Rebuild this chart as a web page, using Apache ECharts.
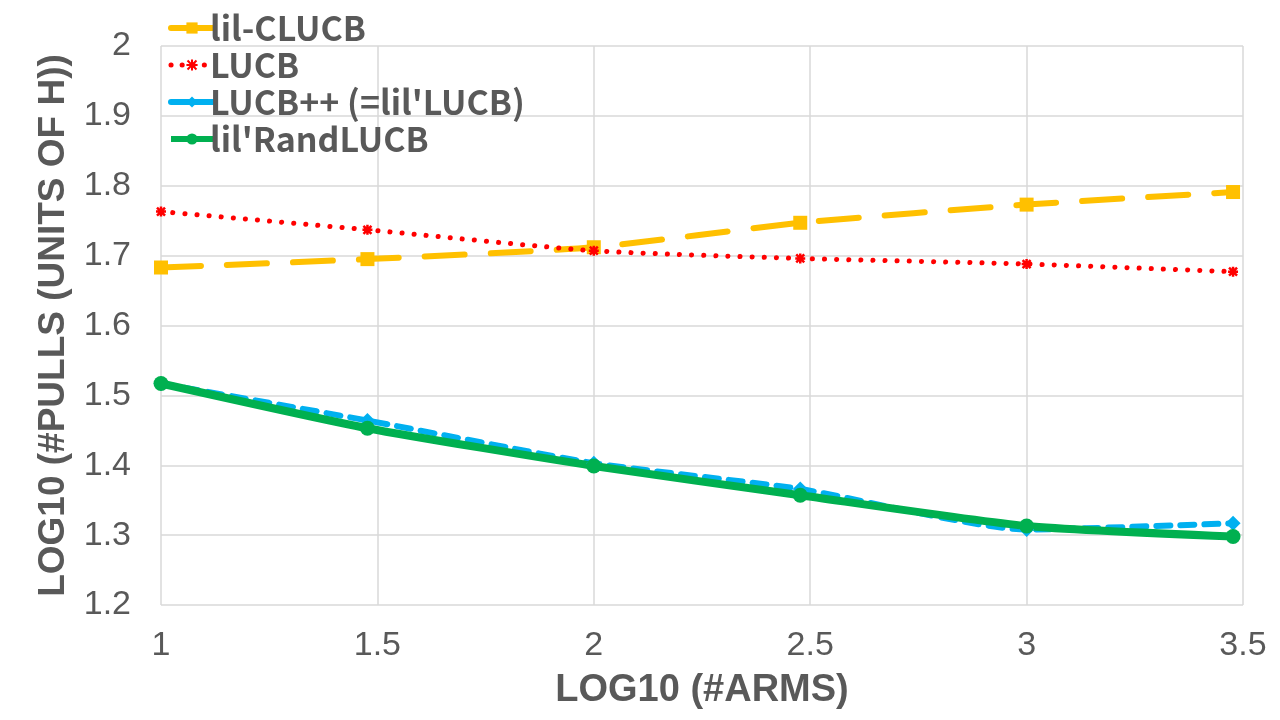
<!DOCTYPE html>
<html>
<head>
<meta charset="utf-8">
<script src="https://cdn.jsdelivr.net/npm/echarts@6/dist/echarts.min.js"></script>
<style>html,body{margin:0;padding:0;background:#fff;}#c{width:1280px;height:720px;}</style>
</head>
<body>
<div id="c"></div>
<script>
var xValues = [1, 1.477, 2, 2.477, 3, 3.477];
var lilCLUCB = [1.683, 1.695, 1.712, 1.747, 1.773, 1.791];
var LUCB = [1.763, 1.737, 1.707, 1.696, 1.688, 1.677];
var LUCBpp = [1.517, 1.464, 1.403, 1.366, 1.308, 1.317];
var lilRandLUCB = [1.517, 1.453, 1.399, 1.357, 1.313, 1.298];
var seriesNames = ["lil-CLUCB", "LUCB", "LUCB++ (=lil'LUCB)", "lil'RandLUCB"];
var seriesColors = ['#FFC000', '#FF0000', '#00B0F0', '#00B050'];

function pairs(ys) { return xValues.map(function (x, i) { return [x, ys[i]]; }); }

var chart = echarts.init(document.getElementById('c'), null, { renderer: 'canvas' });
var grey = '#595959';
var font = 'Liberation Sans, Arial, sans-serif';
chart.setOption({
  animation: false,
  backgroundColor: '#fff',
  grid: { left: 161, right: 37, top: 46, bottom: 115, containLabel: false },
  legend: {
    orient: 'vertical', left: 163, top: 6, itemGap: 3, itemWidth: 42, itemHeight: 14,
    textStyle: { fontSize: 34, fontWeight: 'bold', color: grey, fontFamily: 'Noto Sans CJK SC', padding: [0, 0, 0, -8] },
    data: seriesNames.map(function (n, i) {
      return { name: n, lineStyle: i === 1
        ? { width: 5, color: seriesColors[i], type: [0.1, 11], cap: 'round' }
        : { width: 6, color: seriesColors[i], type: 'solid' } };
    })
  },
  xAxis: {
    type: 'value', min: 1, max: 3.5, interval: 0.5,
    name: 'LOG10 (#ARMS)', nameLocation: 'middle', nameGap: 67,
    nameTextStyle: { fontSize: 38, fontWeight: 'bold', color: grey, fontFamily: font },
    axisLine: { show: false }, axisTick: { show: false },
    axisLabel: { fontSize: 34, color: grey, fontFamily: font, margin: 24 },
    splitLine: { show: true, lineStyle: { color: '#d9d9d9', width: 1.5 } }
  },
  yAxis: {
    type: 'value', min: 1.2, max: 2, interval: 0.1,
    name: "LOG10 (#PULLS (UNITS OF H))", nameLocation: 'middle', nameGap: 89,
    nameTextStyle: { fontSize: 37, fontWeight: 'bold', color: grey, fontFamily: font },
    axisLine: { show: false }, axisTick: { show: false },
    axisLabel: { fontSize: 34, color: grey, fontFamily: font, margin: 30 },
    splitLine: { show: true, lineStyle: { color: '#d9d9d9', width: 1.5 } }
  },
  series: [
    { name: seriesNames[0], type: 'line', data: pairs(lilCLUCB), smooth: 0.2,
      symbol: 'rect', symbolSize: 14, itemStyle: { color: seriesColors[0] },
      lineStyle: { color: seriesColors[0], width: 6, type: [40, 26], cap: 'round' } },
    { name: seriesNames[1], type: 'line', data: pairs(LUCB), smooth: 0.2,
      symbol: 'path://M0,5 L10,5 M5,0 L5,10 M1,1 L9,9 M9,1 L1,9', symbolSize: 10,
      itemStyle: { color: seriesColors[1], borderColor: seriesColors[1], borderWidth: 2.5 },
      lineStyle: { color: seriesColors[1], width: 5, type: [0.1, 12], cap: 'round' } },
    { name: seriesNames[2], type: 'line', data: pairs(LUCBpp), smooth: 0.2,
      symbol: 'diamond', symbolSize: 15, itemStyle: { color: seriesColors[2] },
      lineStyle: { color: seriesColors[2], width: 6, type: [14, 10], cap: 'round' } },
    { name: seriesNames[3], type: 'line', data: pairs(lilRandLUCB), smooth: 0.2,
      symbol: 'circle', symbolSize: 15, itemStyle: { color: seriesColors[3] },
      lineStyle: { color: seriesColors[3], width: 8 } }
  ]
});
</script>
</body>
</html>
